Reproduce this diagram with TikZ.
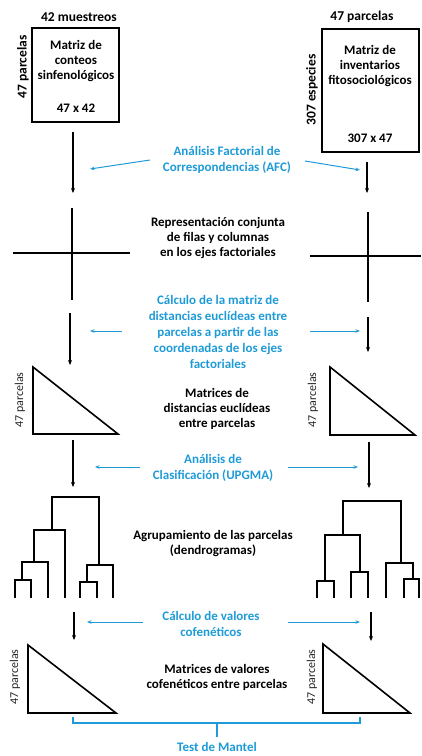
\documentclass[tikz,border=0pt]{standalone}
\usepackage{fontspec}
\setmainfont{Carlito}
\usetikzlibrary{arrows.meta}
\definecolor{azul}{RGB}{30,155,215}
\begin{document}
\begin{tikzpicture}[x=1pt,y=-1pt,
 txt/.style={font=\bfseries\fontsize{13}{15}\selectfont, align=center, inner sep=0pt},
 btxt/.style={font=\bfseries\fontsize{13}{15.8}\selectfont, align=center, inner sep=0pt, text=azul},
 lab/.style={font=\bfseries\fontsize{13.5}{15}\selectfont, inner sep=0pt},
 tlab/.style={font=\fontsize{12}{14}\selectfont, inner sep=0pt, rotate=90, text=black!85},
 blk/.style={line width=1.3pt, -{Stealth[length=5pt,width=4pt]}},
 barrow/.style={azul, line width=1pt, -{Stealth[length=4.5pt,width=3.5pt]}},
 frame/.style={draw, line width=1.6pt, inner sep=0pt},
 shp/.style={line width=1.6pt, line join=miter},
 dendro/.style={line width=1.8pt, line cap=rect},
]
\useasboundingbox (0,0) rectangle (421,756);

% ---------- top matrices ----------
\node[frame, minimum width=87pt, minimum height=94pt] (box1) at (75.5,75) {};
\node[frame, minimum width=97pt, minimum height=123pt] (box2) at (370.5,90.5) {};
\node[lab] (c42) at (79,17) {42 muestreos};
\node[lab, rotate=90] (r47) at (23,67) {47 parcelas};
\node[txt] (m1) at (76,61) {Matriz de\\conteos\\sinfenológicos};
\node[txt] (d1) at (76,108) {47 x 42};
\node[lab] (c47) at (362,17) {47 parcelas};
\node[lab, rotate=90] (r307) at (312,90) {307 especies};
\node[txt] (m2) at (370,66) {Matriz de\\inventarios\\fitosociológicos};
\node[txt] (d2) at (370,138) {307 x 47};

% ---------- AFC ----------
\coordinate (a1s) at (73,132); \coordinate (a1e) at (73,193);
\coordinate (a2s) at (367,162); \coordinate (a2e) at (367,193);
\draw[blk] (a1s) -- (a1e);
\draw[blk] (a2s) -- (a2e);
\node[btxt] (afc) at (227,160) {Análisis Factorial de\\Correspondencias (AFC)};
\coordinate (b1s) at (150,160); \coordinate (b1e) at (90,169);
\coordinate (b2s) at (305,161); \coordinate (b2e) at (360,170);
\draw[barrow] (b1s) -- (b1e);
\draw[barrow] (b2s) -- (b2e);

% ---------- crosses ----------
\draw[shp] (72,208) -- (72,300) (13,253) -- (130,253);
\draw[shp] (368,212) -- (368,302) (310,256) -- (421,256);
\node[txt] (rep) at (218,238) {Representación conjunta\\de filas y columnas\\en los ejes factoriales};

% ---------- distances ----------
\coordinate (a3s) at (70,313); \coordinate (a3e) at (70,365);
\coordinate (a4s) at (368,317); \coordinate (a4e) at (368,352);
\draw[blk] (a3s) -- (a3e);
\draw[blk] (a4s) -- (a4e);
\node[btxt] (calc) at (218,332) {Cálculo de la matriz de\\distancias euclídeas entre\\parcelas a partir de las\\coordenadas de los ejes\\factoriales};
\coordinate (b3s) at (122,331); \coordinate (b3e) at (90,331);
\coordinate (b4s) at (310,331); \coordinate (b4e) at (360,331);
\draw[barrow] (b3s) -- (b3e);
\draw[barrow] (b4s) -- (b4e);

\draw[shp] (33,367) -- (33,434) -- (118,434) -- cycle;
\draw[shp] (330,367) -- (330,435) -- (415,435) -- cycle;
\node[tlab] (p1) at (20,400) {47 parcelas};
\node[tlab] (p2) at (313,400) {47 parcelas};
\node[txt] (mde) at (217,409) {Matrices de\\distancias euclídeas\\entre parcelas};

% ---------- UPGMA ----------
\coordinate (a5s) at (73,440); \coordinate (a5e) at (73,487);
\coordinate (a6s) at (369,442); \coordinate (a6e) at (369,488);
\draw[blk] (a5s) -- (a5e);
\draw[blk] (a6s) -- (a6e);
\node[btxt] (upg) at (213,468) {Análisis de\\Clasificación (UPGMA)};
\coordinate (b5s) at (140,467); \coordinate (b5e) at (95,467);
\coordinate (b6s) at (288,467); \coordinate (b6e) at (358,467);
\draw[barrow] (b5s) -- (b5e);
\draw[barrow] (b6s) -- (b6e);

% left dendrogram
\draw[dendro] (52,530) -- (52,497) -- (99,497) -- (99,565);
\draw[dendro] (34,562) -- (34,530) -- (65,530) -- (65,597);
\draw[dendro] (22,580) -- (22,562) -- (48,562) -- (48,597);
\draw[dendro] (15,597) -- (15,580) -- (31,580) -- (31,597);
\draw[dendro] (87,582) -- (87,565) -- (113,565) -- (113,597);
\draw[dendro] (80,597) -- (80,582) -- (97,582) -- (97,597);
% right dendrogram
\draw[dendro] (343,535) -- (343,501) -- (401,501) -- (401,563);
\draw[dendro] (325,581) -- (325,535) -- (360,535) -- (360,572);
\draw[dendro] (317,597) -- (317,581) -- (334,581) -- (334,597);
\draw[dendro] (351,597) -- (351,572) -- (368,572) -- (368,597);
\draw[dendro] (386,597) -- (386,563) -- (413,563) -- (413,579);
\draw[dendro] (404,597) -- (404,579) -- (419,579) -- (419,597);
\node[txt] (agr) at (213,544) {Agrupamiento de las parcelas\\(dendrogramas)};

% ---------- cophenetic ----------
\coordinate (a7s) at (74,612); \coordinate (a7e) at (74,640);
\coordinate (a8s) at (371,612); \coordinate (a8e) at (371,641);
\draw[blk] (a7s) -- (a7e);
\draw[blk] (a8s) -- (a8e);
\node[btxt] (cof) at (211,624) {Cálculo de valores\\cofenéticos};
\coordinate (b7s) at (143,622); \coordinate (b7e) at (87,622);
\coordinate (b8s) at (288,622); \coordinate (b8e) at (360,622);
\draw[barrow] (b7s) -- (b7e);
\draw[barrow] (b8s) -- (b8e);

\draw[shp] (28,645) -- (28,713) -- (116,713) -- cycle;
\draw[shp] (323,644) -- (323,713) -- (410,713) -- cycle;
\node[tlab] (p3) at (15,677) {47 parcelas};
\node[tlab] (p4) at (312,677) {47 parcelas};
\node[txt] (mvc) at (217,677) {Matrices de valores\\cofenéticos entre parcelas};

% ---------- Mantel ----------
\coordinate (k1) at (73,717); \coordinate (k2) at (360,717);
\coordinate (km) at (217,723); \coordinate (kd) at (217,737);
\draw[azul, line width=1.2pt] (k1) -- (73,723) -- (360,723) -- (k2);
\draw[azul, line width=1.2pt] (km) -- (kd);
\node[btxt] (mantel) at (217,747) {Test de Mantel};
\end{tikzpicture}
\end{document}
